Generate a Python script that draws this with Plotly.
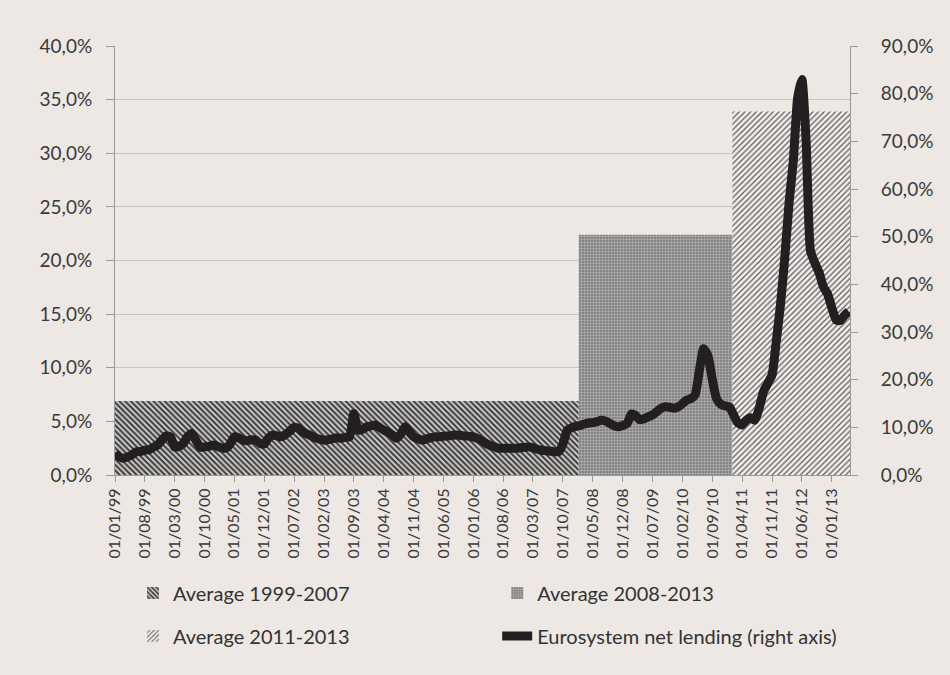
import plotly.graph_objects as go
import pandas as pd

# ---------------- data ----------------
first_month = "1999-01-01"
net_lending = [  # Eurosystem net lending, % (right axis), monthly from Jan 1999
    4.5, 3.8, 3.5, 3.8, 4.2, 4.9, 4.9, 5.2, 5.3, 5.8, 6.3, 7.3,
    8.2, 8.0, 5.9, 6.0, 6.6, 8.0, 8.7, 7.2, 5.8, 5.9, 6.0, 6.3,
    6.0, 5.7, 5.6, 6.5, 8.0, 7.8, 7.3, 7.2, 7.4, 7.3, 6.6, 6.5,
    7.8, 8.4, 8.2, 8.0, 8.5, 9.2, 10.0, 9.8, 9.0, 8.6, 8.2, 7.8,
    7.5, 7.3, 7.4, 7.6, 7.8, 7.7, 7.9, 8.0, 12.9, 9.4, 9.6, 10.1,
    10.3, 10.5, 10.0, 9.4, 9.0, 8.4, 7.7, 8.6, 10.1, 9.0, 8.0, 7.6,
    7.3, 7.6, 7.8, 8.0, 8.0, 8.1, 8.2, 8.3, 8.4, 8.3, 8.2, 8.1,
    8.0, 7.6, 7.2, 6.6, 6.2, 5.9, 5.6, 5.6, 5.6, 5.6, 5.6, 5.7,
    5.8, 5.9, 5.7, 5.4, 5.2, 5.1, 5.0, 4.9, 4.9, 6.5, 9.4, 9.9,
    10.2, 10.4, 10.7, 10.9, 11.0, 11.2, 11.5, 11.3, 10.8, 10.3, 10.1, 10.4,
    10.8, 12.8, 12.5, 11.6, 11.8, 12.2, 12.6, 13.3, 14.0, 14.3, 14.2, 14.0,
    14.3, 15.0, 15.7, 16.0, 16.8, 22.0, 26.5, 25.0, 20.0, 16.0, 14.8, 14.5,
    14.3, 12.5, 11.0, 10.5, 11.5, 12.0, 11.5, 14.0, 17.5, 19.2, 21.0, 28.0,
    36.0, 46.0, 57.0, 66.0, 79.0, 83.0, 70.0, 47.0, 44.5, 42.5, 39.5, 38.0,
    35.0, 32.5, 32.4, 33.5, 34.3,
]
line_name = "Eurosystem net lending (right axis)"

period_names = ["Average 1999-2007", "Average 2008-2013", "Average 2011-2013"]
period_start = ["1999-01-01", "2008-01-22", "2011-01-22"]
period_end = ["2008-01-22", "2011-01-22", "2013-05-10"]
period_avg = [6.9, 22.4, 33.9]  # % (left axis)

tick_dates = [
    "1999-01-01", "1999-08-01", "2000-03-01", "2000-10-01", "2001-05-01",
    "2001-12-01", "2002-07-01", "2003-02-01", "2003-09-01", "2004-04-01",
    "2004-11-01", "2005-06-01", "2006-01-01", "2006-08-01", "2007-03-01",
    "2007-10-01", "2008-05-01", "2008-12-01", "2009-07-01", "2010-02-01",
    "2010-09-01", "2011-04-01", "2011-11-01", "2012-06-01", "2013-01-01",
]
tick_labels = [
    "01/01/99", "01/08/99", "01/03/00", "01/10/00", "01/05/01",
    "01/12/01", "01/07/02", "01/02/03", "01/09/03", "01/04/04",
    "01/11/04", "01/06/05", "01/01/06", "01/08/06", "01/03/07",
    "01/10/07", "01/05/08", "01/12/08", "01/07/09", "01/02/10",
    "01/09/10", "01/04/11", "01/11/11", "01/06/12", "01/01/13",
]

# ---------------- styles ----------------
BG = "#EDE8E4"
FONT = "Lato"
TXT = "#3a3a3a"
AX = "#9a9a9a"

patterns = [
    dict(shape="\\", fgcolor="#3a3a3a", bgcolor="#cfcdcb", size=4, solidity=0.5),
    dict(shape=".", fgcolor="#b0b0b0", bgcolor="#767676", size=3, solidity=0.5),
    dict(shape="/", fgcolor="#5a5a5a", bgcolor="#f1eeeb", size=4, solidity=0.3),
]
# one legend per entry so each can be placed like the 2x2 reference legend
legend_ids = ["legend", "legend2", "legend3", "legend4"]
legend_pos = [(0.0245, -0.2751), (0.520, -0.2751), (0.0245, -0.3753), (0.520, -0.3753)]

months = pd.date_range(first_month, periods=len(net_lending), freq="MS")

fig = go.Figure()
for i, (name, s, e, v, pat) in enumerate(zip(period_names, period_start, period_end,
                                              period_avg, patterns)):
    s_ts, e_ts = pd.Timestamp(s), pd.Timestamp(e)
    mid = s_ts + (e_ts - s_ts) / 2
    width_ms = (e_ts - s_ts).total_seconds() * 1000
    fig.add_trace(go.Bar(
        x=[mid], y=[v], width=[width_ms], name=name,
        marker=dict(color=pat["bgcolor"], line=dict(width=0),
                    pattern=dict(fillmode="replace", **pat)),
        legend=legend_ids[i], hoverinfo="skip",
    ))

fig.add_trace(go.Scatter(
    x=months, y=net_lending, yaxis="y2", mode="lines", name=line_name,
    line=dict(color="#231f20", width=9, shape="spline", smoothing=0.5),
    legend=legend_ids[3],
))

axis_common = dict(showline=True, linecolor=AX, linewidth=1, ticks="outside",
                   tickcolor=AX, tickfont=dict(family=FONT, size=19, color=TXT))

legend_layout = {}
for lid, (lx, ly) in zip(legend_ids, legend_pos):
    legend_layout[lid] = dict(
        orientation="h", x=lx, xanchor="left", y=ly, yanchor="middle",
        bgcolor="rgba(0,0,0,0)", font=dict(family=FONT, size=20, color="#333333"),
    )

fig.update_layout(
    width=950, height=675,
    paper_bgcolor=BG, plot_bgcolor=BG,
    margin=dict(l=115, r=100, t=46, b=200),
    separators=",.",
    barmode="overlay",
    font=dict(family=FONT, size=19, color=TXT),
    xaxis=dict(
        type="date", range=["1999-01-01", "2013-05-10"],
        tickvals=tick_dates, ticktext=tick_labels, tickangle=-90,
        showline=True, linecolor=AX, ticks="outside", tickcolor=AX, ticklen=6,
        showgrid=False, tickfont=dict(family=FONT, size=16, color=TXT),
    ),
    yaxis=dict(range=[0, 40], dtick=5, tick0=0, tickformat=".1f", ticksuffix="%",
               showgrid=True, gridcolor="#c6c3c0", gridwidth=1, zeroline=False,
               ticklen=8, ticklabelstandoff=10, **axis_common),
    yaxis2=dict(range=[0, 90], dtick=10, tick0=0, tickformat=".1f", ticksuffix="%",
                overlaying="y", side="right", showgrid=False, zeroline=False,
                ticklen=7, ticklabelstandoff=19, **axis_common),
    showlegend=True,
    **legend_layout,
)

fig.write_html("out.html", config={"displayModeBar": False},
               post_script="document.body.style.margin='0';")
